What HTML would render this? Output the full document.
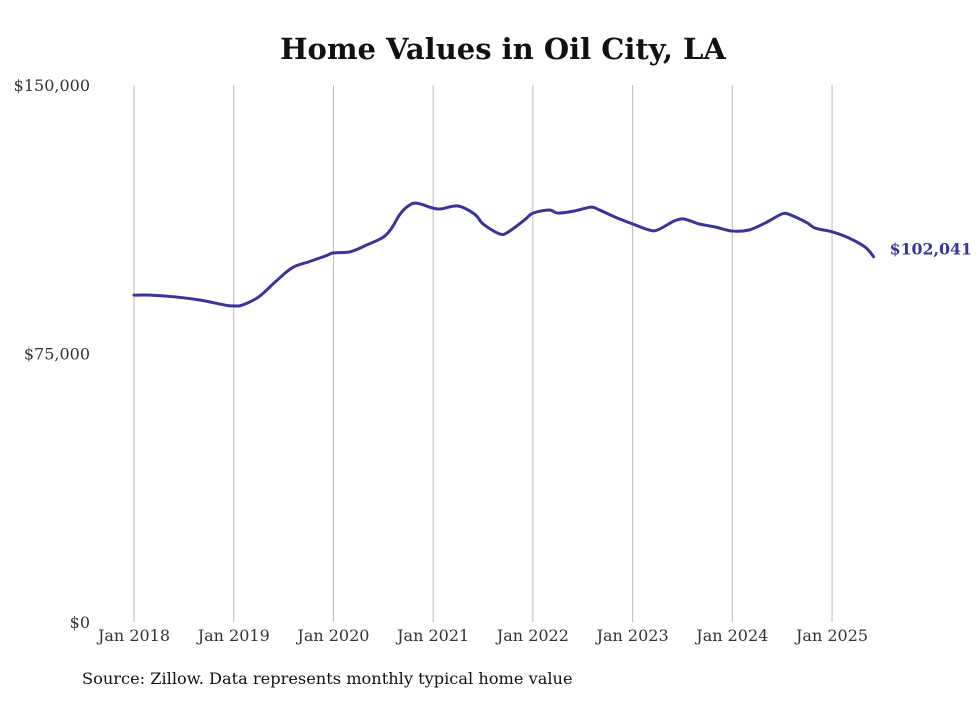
<!DOCTYPE html>
<html><head><meta charset="utf-8"><style>
body{margin:0;background:#fff;}
svg text{font-family:"DejaVu Serif","Liberation Serif",serif;}
</style></head><body>
<svg width="980" height="699">
<text x="503" y="59" text-anchor="middle" font-size="29" font-weight="bold" fill="#111">Home Values in Oil City, LA</text>
<g id="grid"></g><g id="yaxis"></g><g id="xaxis"></g>
<path id="line" fill="none" stroke="#3a3399" stroke-width="3" stroke-linejoin="round" stroke-linecap="round"/>
<text id="endlabel" font-size="15.8" font-weight="bold" fill="#3a3399"></text>
<text x="82" y="684" font-size="16.2" fill="#111">Source: Zillow. Data represents monthly typical home value</text>
</svg>
<script>
const dates=["2018-01","2018-03","2018-06","2018-09","2018-12","2019-01","2019-02","2019-04","2019-06","2019-08","2019-10","2019-12","2020-01","2020-03","2020-05","2020-07","2020-08","2020-09","2020-10","2020-11","2021-01","2021-02","2021-04","2021-06","2021-07","2021-09","2021-10","2021-12","2022-01","2022-03","2022-04","2022-06","2022-08","2022-09","2022-11","2023-01","2023-03","2023-04","2023-06","2023-07","2023-08","2023-09","2023-11","2024-01","2024-03","2024-05","2024-07","2024-08","2024-10","2024-11","2025-01","2025-03","2025-05","2025-06"];
const values=[91300,91300,90800,89900,88500,88300,88500,90800,95000,98900,100600,102200,103100,103400,105300,107500,110000,113900,116200,117000,115600,115400,116200,113900,111200,108400,108900,112300,114200,115100,114200,114800,115900,115100,113000,111200,109500,109500,112000,112600,112000,111200,110300,109200,109500,111500,114000,113700,111500,110000,109000,107300,104700,102041];
const yTicks=[0,75000,150000];
const yTickLabels=["$0","$75,000","$150,000"];
const xTickYears=[2018,2019,2020,2021,2022,2023,2024,2025];
const ns="http://www.w3.org/2000/svg";
const x0=134,pxPerMonth=8.31,yTop=85,yBot=622,yMax=150000;
function xs(d){const [y,m]=d.split("-").map(Number);return x0+((y-2018)*12+(m-1))*pxPerMonth;}
function ys(v){return yBot-(v/yMax)*(yBot-yTop);}
function mk(t,a,p){const e=document.createElementNS(ns,t);for(const k in a)e.setAttribute(k,a[k]);p.appendChild(e);return e;}
const grid=document.getElementById("grid"),xa=document.getElementById("xaxis"),ya=document.getElementById("yaxis");
xTickYears.forEach(yr=>{const x=xs(yr+"-01");
 const l=mk("line",{x1:x,x2:x,y1:yTop,y2:yBot,stroke:"#bbb","stroke-width":1},grid);
 
 
 const t=mk("text",{x:x,y:641,"text-anchor":"middle","font-size":16,fill:"#333"},xa);t.textContent="Jan "+yr;
 
 
});
yTicks.forEach((v,i)=>{const t=mk("text",{x:90,y:ys(v)+6,"text-anchor":"end","font-size":16,fill:"#333"},ya);t.textContent=yTickLabels[i];
 
 
});
const pts=dates.map((d,i)=>[xs(d),ys(values[i])]);
let p="M"+pts[0][0]+","+pts[0][1];
for(let i=0;i<pts.length-1;i++){const a=pts[Math.max(0,i-1)],b=pts[i],c=pts[i+1],d=pts[Math.min(pts.length-1,i+2)];
 const c1=[b[0]+(c[0]-a[0])/6,b[1]+(c[1]-a[1])/6],c2=[c[0]-(d[0]-b[0])/6,c[1]-(d[1]-b[1])/6];
 p+=`C${c1[0]},${c1[1]} ${c2[0]},${c2[1]} ${c[0]},${c[1]}`;}
document.getElementById("line").setAttribute("d",p);
const last=pts[pts.length-1],el=document.getElementById("endlabel");
el.setAttribute("x",last[0]+16);el.setAttribute("y",last[1]-2);
el.textContent="$"+values[values.length-1].toLocaleString("en-US");
</script>
</body></html>
